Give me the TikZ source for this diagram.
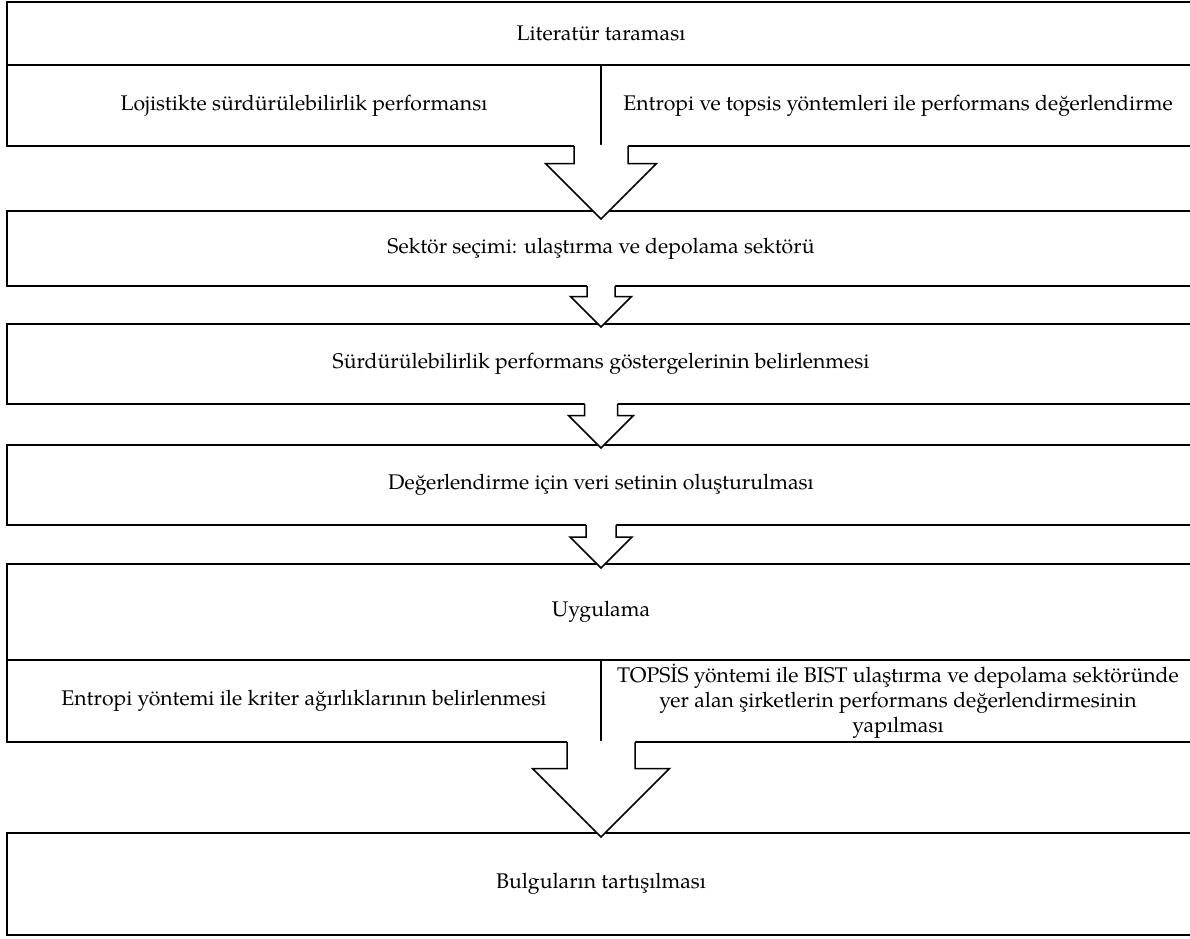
\documentclass[tikz,border=0pt]{standalone}
\usepackage{fontspec}
\setmainfont{texgyrepagella-regular.otf}
\usetikzlibrary{calc}

% hollow block arrow: upper node, lower node, shaft half width, head half width, tip overshoot
\newcommand{\blockarrow}[5]{%
    \coordinate (s) at (#2.north |- #1.south);
    \coordinate (t) at ($(#2.north)+(0,#5)$);
    \fill[white] ($(s)+(-#3,-1.2)$) -- ($(t)+(-#3,-#4)$) -- ($(t)+(-#4,-#4)$) -- (t)
        -- ($(t)+(#4,-#4)$) -- ($(t)+(#3,-#4)$) -- ($(s)+(#3,-1.2)$) -- cycle;
    \draw[barrow] ($(s)+(-#3,0)$) -- ($(t)+(-#3,-#4)$) -- ($(t)+(-#4,-#4)$) -- (t)
        -- ($(t)+(#4,-#4)$) -- ($(t)+(#3,-#4)$) -- ($(s)+(#3,0)$);
}

\begin{document}
\begin{tikzpicture}[x=1pt, y=-1pt,
    box/.style={draw, line width=1.6pt, inner sep=0pt, outer sep=0pt, anchor=north west,
        align=center, font=\fontsize{21.2}{25}\selectfont},
    barrow/.style={line width=1.5pt, line join=miter}]
    \useasboundingbox (0,0) rectangle (1190,938);

    \node[box, minimum width=1188pt, minimum height=63pt] (lit) at (7,2) {Literatür taraması};
    \node[box, minimum width=594pt, minimum height=81pt] (loj) at (7,65) {Lojistikte sürdürülebilirlik performansı};
    \node[box, minimum width=594pt, minimum height=81pt] (ent) at (601,65) {Entropi ve topsis yöntemleri ile performans değerlendirme};

    \node[box, minimum width=1188pt, minimum height=75pt] (sek) at (7,211) {Sektör seçimi: ulaştırma ve depolama sektörü};
    \node[box, minimum width=1188pt, minimum height=80pt] (gos) at (7,324) {Sürdürülebilirlik performans göstergelerinin belirlenmesi};
    \node[box, minimum width=1188pt, minimum height=80pt] (veri) at (7,445) {Değerlendirme için veri setinin oluşturulması};

    \node[box, minimum width=1188pt, minimum height=96pt] (uyg) at (7,564) {Uygulama};
    \node[box, minimum width=594pt, minimum height=82pt] (agr) at (7,660) {Entropi yöntemi ile kriter ağırlıklarının belirlenmesi};
    \node[box, minimum width=594pt, minimum height=82pt] (tops) at (601,660) {TOPSİS yöntemi ile BIST ulaştırma ve depolama sektöründe\\
        yer alan şirketlerin performans değerlendirmesinin\\ yapılması};

    \node[box, minimum width=1188pt, minimum height=102pt] (bul) at (7,833) {Bulguların tartışılması};

    \blockarrow{loj}{sek}{27}{55.5}{8}
    \blockarrow{sek}{gos}{14}{30.5}{3}
    \blockarrow{gos}{veri}{16.5}{32.5}{3}
    \blockarrow{veri}{uyg}{15}{31}{4}
    \blockarrow{agr}{bul}{34}{68.5}{4}
\end{tikzpicture}
\end{document}
